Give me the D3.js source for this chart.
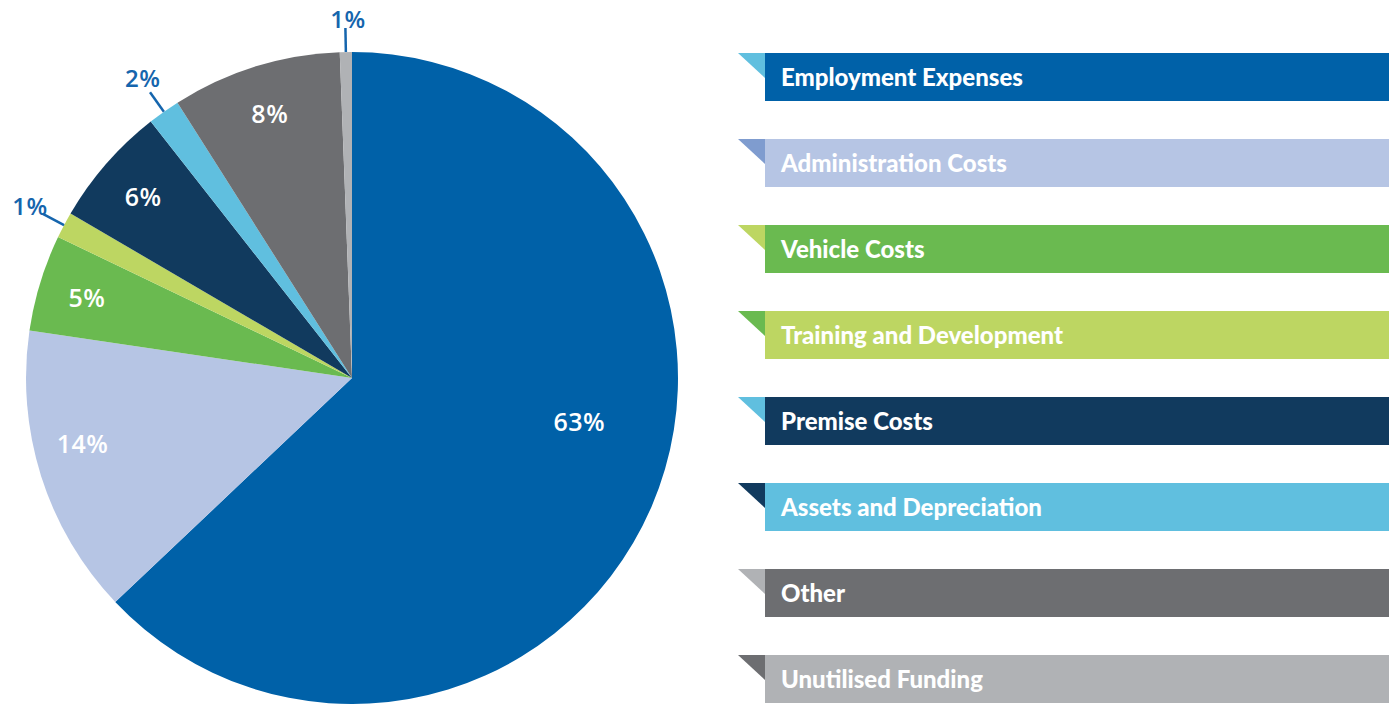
<!DOCTYPE html>
<html lang="en">
<head>
    <meta charset="UTF-8">
    <script src="https://d3js.org/d3.v7.min.js"></script>
    <title>Expenditure</title>
    <style>
        body { margin: 0; background: #fff; }
        .pct { font-family: "Open Sans", sans-serif; font-weight: 600; font-size: 25px; letter-spacing: 0.5px; }
        .pct.out { font-size: 24px; }
        .legend-text { font-family: Lato, sans-serif; font-weight: 900; font-size: 24px; fill: #fff; }
    </style>
</head>
<body>
    <svg id="chart" width="1399" height="704"></svg>
    <script>
        // data
        var categories = ["Employment Expenses", "Administration Costs", "Vehicle Costs", "Training and Development",
            "Premise Costs", "Assets and Depreciation", "Other", "Unutilised Funding"]
        var values = [63.0, 14.4, 4.8, 1.3, 6.0, 1.6, 8.4, 0.6]
        var colors = ["#0061a8", "#b6c5e4", "#6aba50", "#bdd662", "#113a5e", "#60bfdf", "#6d6e71", "#b0b2b5"]
        var accentColors = ["#60bfdf", "#7f9ccf", "#bdd662", "#6aba50", "#60bfdf", "#113a5e", "#b0b2b5", "#6d6e71"]
        // slices too thin for an inside label
        var outsideLabels = [false, false, false, true, false, true, false, true]

        const svg = d3.select("#chart")
        const cx = 352, cy = 378, R = 326

        const pie = d3.pie().sort(null).value(d => d)
        const arcs = pie(values)
        const arc = d3.arc().innerRadius(0).outerRadius(R)

        const g = svg.append("g").attr("transform", `translate(${cx},${cy})`)

        g.selectAll("path.slice")
            .data(arcs)
            .enter()
            .append("path")
            .attr("class", "slice")
            .attr("d", arc)
            .attr("fill", (d, i) => colors[i])

        // inside labels
        const labelArc = d3.arc().innerRadius(R * 0.85).outerRadius(R * 0.85)
        const bigArc = d3.arc().innerRadius(R * 0.71).outerRadius(R * 0.71)
        const maxV = d3.max(values)

        g.selectAll("text.inside")
            .data(arcs.filter((d, i) => !outsideLabels[i]))
            .enter()
            .append("text")
            .attr("class", "pct")
            .attr("fill", "#fff")
            .attr("text-anchor", "middle")
            .attr("dominant-baseline", "central")
            .attr("transform", d => {
                if (d.data === maxV) {
                    // biggest slice label sits higher, towards the right
                    const a = Math.PI * 0.56
                    return `translate(${bigArc.centroid({ startAngle: a, endAngle: a })})`
                }
                if (d.data > 10) {
                    // wide slice: nudge label a little past the middle
                    const a = (d.startAngle + d.endAngle) / 2 + 0.07
                    return `translate(${labelArc.centroid({ startAngle: a, endAngle: a })})`
                }
                return `translate(${labelArc.centroid(d)})`
            })
            .text(d => Math.round(d.data) + "%")

        // outside labels with leader lines
        const outs = arcs.filter((d, i) => outsideLabels[i])
        const mid = d => (d.startAngle + d.endAngle) / 2
        const pt = (d, r) => [Math.sin(mid(d)) * r, -Math.cos(mid(d)) * r]

        g.selectAll("line.leader")
            .data(outs)
            .enter()
            .append("line")
            .attr("x1", d => pt(d, R)[0])
            .attr("y1", d => pt(d, R)[1])
            .attr("x2", d => pt(d, R + 24)[0])
            .attr("y2", d => pt(d, R + 24)[1])
            .attr("stroke", "#1565ad")
            .attr("stroke-width", 2.5)

        g.selectAll("text.outside")
            .data(outs)
            .enter()
            .append("text")
            .attr("class", "pct out")
            .attr("fill", "#1565ad")
            .attr("text-anchor", "middle")
            .attr("dominant-baseline", "central")
            .attr("x", d => pt(d, R + 42)[0] + 3)
            .attr("y", d => Math.max(pt(d, R + 42)[1], 18 - cy))
            .text(d => Math.round(d.data) + "%")

        // legend
        const yRow = d3.scaleLinear().domain([0, categories.length - 1]).range([53, 655])
        const barX = 765, barW = 624, barH = 48, tabW = 27, tabH = 25

        const rows = svg.append("g").attr("class", "legend")
            .selectAll("g")
            .data(categories)
            .enter()
            .append("g")
            .attr("transform", (d, i) => `translate(0,${yRow(i)})`)

        rows.append("path")
            .attr("d", `M${barX - tabW},0H${barX}V${tabH}Z`)
            .attr("fill", (d, i) => accentColors[i])

        rows.append("rect")
            .attr("x", barX)
            .attr("width", barW)
            .attr("height", barH)
            .attr("fill", (d, i) => colors[i])

        rows.append("text")
            .attr("class", "legend-text")
            .attr("x", barX + 16)
            .attr("y", 33)
            .text(d => d)
    </script>
</body>
</html>
